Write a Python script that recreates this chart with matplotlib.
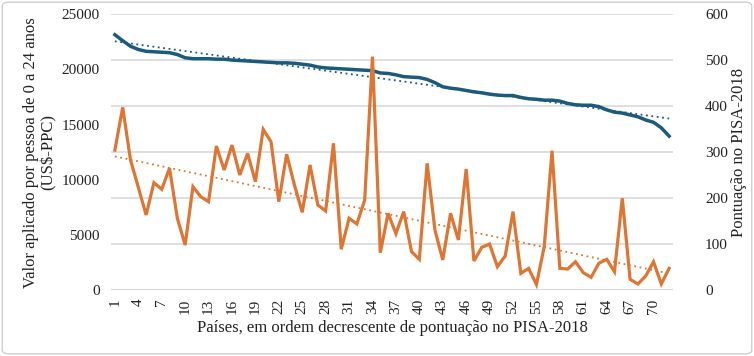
import numpy as np
import matplotlib
matplotlib.use("Agg")
import matplotlib.pyplot as plt
from matplotlib.patches import FancyBboxPatch

# spending per person aged 0-24 (US$-PPP), left axis
gasto = [12700, 16560, 11800, 9330, 6830, 9750, 9150, 11050, 6530, 4110,
         9390, 8480, 8030, 13060, 10900, 13150, 10440, 12400, 9840, 14570,
         13450, 8030, 12320, 9540, 7070, 11350, 7730, 7190, 13310, 3730,
         6530, 6020, 8180, 21140, 3420, 6980, 5140, 7130, 3510, 2820,
         11500, 5470, 2760, 6980, 4570, 10990, 2670, 3900, 4200, 2150,
         3120, 7130, 1550, 2000, 540, 3960, 12640, 2000, 1940, 2600,
         1610, 1190, 2460, 2820, 1700, 8340, 1010, 590, 1310, 2600,
         590, 2000]

# PISA-2018 score, right axis
pisa = [555, 542, 530, 523, 519, 518, 517, 516, 512, 505,
        503, 503, 503, 502, 502, 500, 499, 498, 497, 496,
        495, 494, 494, 493, 491, 489, 485, 483, 482, 481,
        480, 479, 478, 477, 472, 471, 468, 464, 463, 462,
        458, 451, 442, 439, 437, 434, 431, 429, 426, 424,
        423, 423, 419, 416, 415, 413, 413, 411, 406, 403,
        402, 402, 399, 392, 387, 385, 381, 377, 370, 365,
        353, 335]

paises = np.arange(1, len(pisa) + 1)
tick_labels = [str(i) for i in range(1, 71, 3)]

ORANGE = "#dd7634"
BLUE = "#1b5a7a"
GRID = "#d9d9d9"

plt.rcParams["font.family"] = ["Liberation Serif", "DejaVu Serif"]

fig = plt.figure(figsize=(7.54, 3.56), dpi=100)
ax = fig.add_axes([0.1472, 0.184, 0.7454, 0.7767])
ax2 = ax.twinx()

# orange on top of blue, grid drawn from the right axis underneath both
ax.set_zorder(ax2.get_zorder() + 1)
ax.patch.set_visible(False)

ax.plot(paises, gasto, color=ORANGE, lw=2.3, solid_joinstyle="miter", zorder=3)
ax2.plot(paises, pisa, color=BLUE, lw=2.5, zorder=3)

# linear trend lines
for a, y, c in ((ax, gasto, ORANGE), (ax2, pisa, BLUE)):
    k, b = np.polyfit(paises, y, 1)
    a.plot(paises, k * paises + b, color=c, lw=1.3, ls=(0, (1, 2)), zorder=2)

ax.set_xlim(0.5, len(paises) + 0.5)
ax.set_ylim(0, 25000)
ax2.set_ylim(0, 600)
ax.set_yticks(range(0, 25001, 5000))
ax2.set_yticks(range(0, 601, 100))
ax2.yaxis.grid(True, color=GRID, lw=1.2)
ax2.set_axisbelow(True)
ax.set_xticks(range(1, 71, 3))
ax.set_xticklabels(tick_labels, rotation=90)

for a in (ax, ax2):
    for s in a.spines.values():
        s.set_visible(False)
    a.tick_params(length=0, labelsize=11, colors="#222222")
ax.tick_params(axis="y", pad=8)
ax2.tick_params(axis="y", pad=23)
ax.tick_params(axis="x", pad=6)
ax.axhline(0, color=GRID, lw=1.5, zorder=1)

ax.set_ylabel("Valor aplicado por pessoa de 0 a 24 anos\n(US$-PPC)",
              fontsize=12, color="#222222", linespacing=1.1)
ax2.set_ylabel("Pontuação no PISA-2018", fontsize=12, color="#222222", labelpad=2)
ax.set_xlabel("Países, em ordem decrescente de pontuação no PISA-2018",
              fontsize=12, color="#222222", labelpad=4)

# chart border
fig.patches.append(FancyBboxPatch((0.003, 0.006), 0.994, 0.988,
                                  boxstyle="round,pad=0,rounding_size=0.01",
                                  transform=fig.transFigure, fill=False,
                                  ec="#d0d0d0", lw=1))

fig.savefig("out.png", dpi=100)
